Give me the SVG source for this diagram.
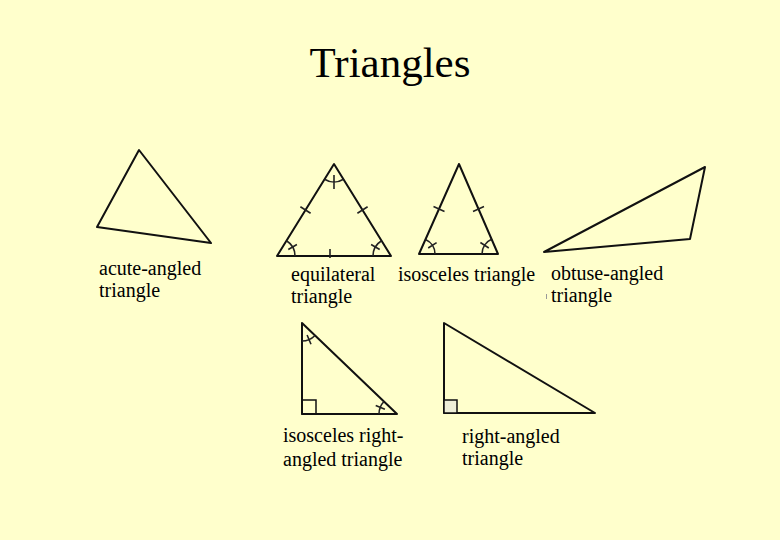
<svg xmlns="http://www.w3.org/2000/svg" width="780" height="540" viewBox="0 0 780 540">
<style>
.bg{fill:#FFFFCC}
.tri{fill:none;stroke:#111;stroke-width:2;stroke-linejoin:round}
.mk{fill:none;stroke:#222;stroke-width:1.6}
.lbl{font-family:"Liberation Serif","Times New Roman",serif;font-size:20px;fill:#000}
.title{font-family:"Liberation Serif","Times New Roman",serif;font-size:43px;fill:#000}
</style>
<rect class="bg" x="0" y="0" width="780" height="540"/>
<text class="title" x="390" y="77" text-anchor="middle">Triangles</text>

<g id="acute">
<polygon class="tri" points="139,150 97,227 211,243"/>
<text class="lbl" x="99" y="275">acute-angled</text>
<text class="lbl" x="99" y="297">triangle</text>
</g>

<g id="equilateral">
<polygon class="tri" points="334,164 277,256 391,256"/>
<path class="mk" d="M324.5,179.3 A18,18 0 0 0 343.5,179.3 M334,175 V189"/>
<path class="mk" d="M286.5,240.7 A18,18 0 0 1 295,256 M288.3,249.5 L296.9,244.5"/>
<path class="mk" d="M381.5,240.7 A18,18 0 0 0 373,256 M379.7,249.5 L371.1,244.5"/>
<path class="mk" d="M300.4,206.8 L310.6,213.2 M367.6,206.8 L357.4,213.2 M330,249 V258"/>
<text class="lbl" x="291" y="281">equilateral</text>
<text class="lbl" x="291" y="303">triangle</text>
</g>

<g id="isosceles">
<polygon class="tri" points="459,164 419,254 498,254"/>
<path class="mk" d="M433.5,206.6 L444.5,211.4 M484,206.6 L473,211.4"/>
<path class="mk" d="M425.5,239.4 A16,16 0 0 1 435,254 M428.2,248 L436.6,242.6"/>
<path class="mk" d="M491.6,239.3 A16,16 0 0 0 482,254 M488.8,248 L480.4,242.5"/>
<text class="lbl" x="398" y="281">isosceles triangle</text>
</g>

<g id="obtuse">
<polygon class="tri" points="544,252 705,167 690,239"/>
<line x1="546.5" y1="294" x2="546.5" y2="299" stroke="#999" stroke-width="1"/>
<text class="lbl" x="551" y="280">obtuse-angled</text>
<text class="lbl" x="551" y="302">triangle</text>
</g>

<g id="isosceles-right">
<polygon class="tri" points="302,323 302,414 397,414"/>
<rect x="302" y="400" width="14" height="14" fill="none" stroke="#111" stroke-width="1.5"/>
<path class="mk" d="M302,341 A18,18 0 0 0 315,335.5 M307.1,335 L311,344.2"/>
<path class="mk" d="M384,401.5 A18,18 0 0 0 379,414 M384.9,409.2 L375.7,405.4"/>
<text class="lbl" x="283" y="442">isosceles right-</text>
<text class="lbl" x="283" y="466">angled triangle</text>
</g>

<g id="right-angled">
<polygon class="tri" points="444,323 444,413 595,413"/>
<rect x="444" y="400" width="13" height="13" fill="#EEEED8" stroke="#111" stroke-width="1.5"/>
<text class="lbl" x="462" y="443">right-angled</text>
<text class="lbl" x="462" y="465">triangle</text>
</g>
</svg>
